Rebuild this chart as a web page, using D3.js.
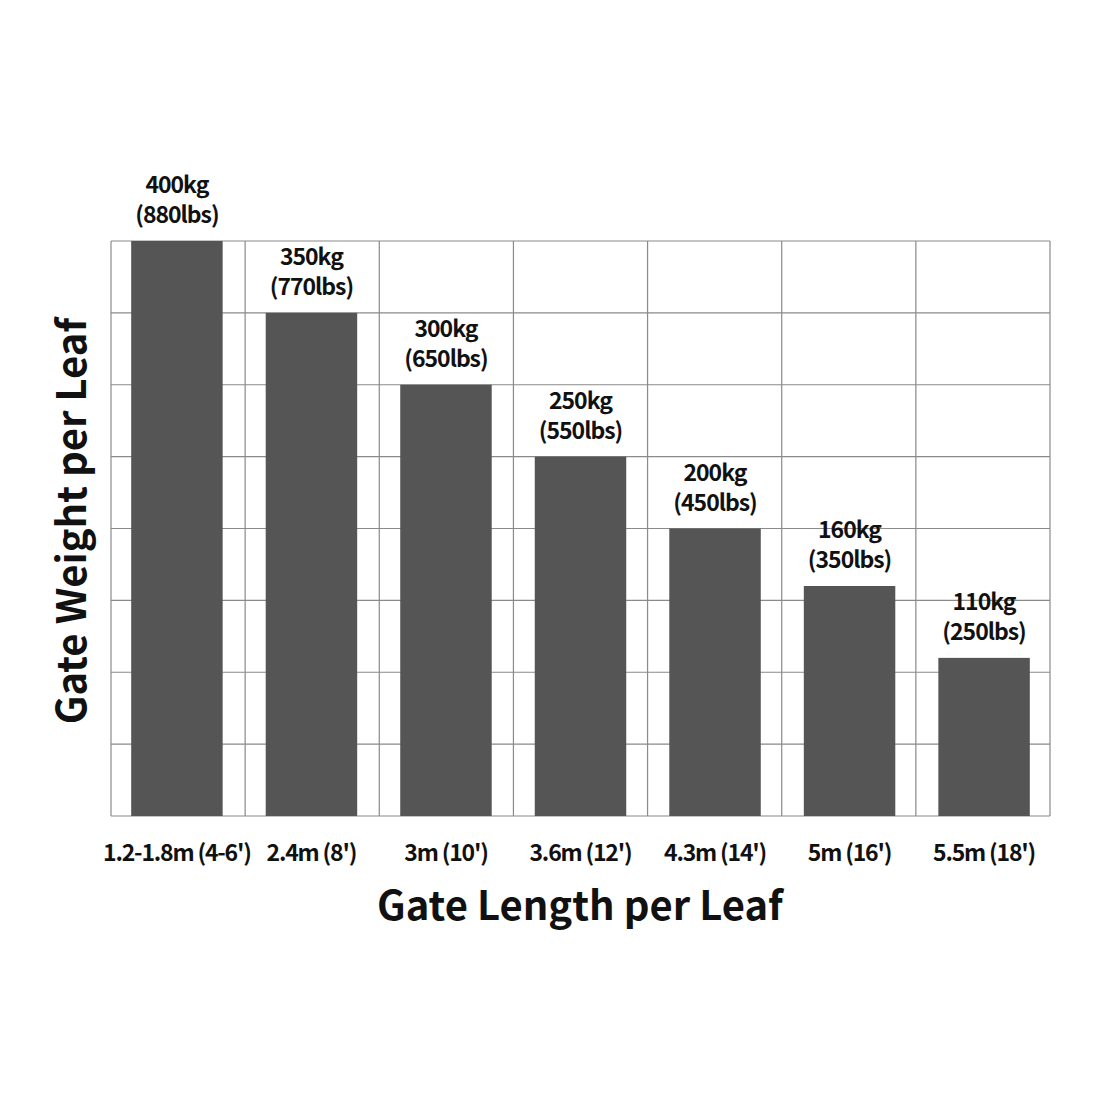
<!DOCTYPE html>
<html>
<head>
<meta charset="utf-8">
<script src="https://cdn.jsdelivr.net/npm/d3@7"></script>
<style>
  body { margin: 0; background: #fff; }
  text { font-family: "Noto Sans CJK SC", "Noto Sans", sans-serif; fill: #111; }
</style>
</head>
<body>
<script>
// chart data
var lengths = ["1.2-1.8m (4-6')", "2.4m (8')", "3m (10')", "3.6m (12')", "4.3m (14')", "5m (16')", "5.5m (18')"];
var weightsKg = [400, 350, 300, 250, 200, 160, 110];
var weightsLbs = [880, 770, 650, 550, 450, 350, 250];
var gridTicks = [0, 50, 100, 150, 200, 250, 300, 350, 400];

var width = 1100, height = 1100;
var plotLeft = 111, plotRight = 1050, plotTop = 241, plotBottom = 816;

var svg = d3.select("body").append("svg")
  .attr("width", width)
  .attr("height", height);

var x = d3.scaleBand()
  .domain(lengths)
  .range([plotLeft, plotRight])
  .paddingInner(0.32)
  .paddingOuter(0.15);

var y = d3.scaleLinear()
  .domain([0, 400])
  .range([plotBottom, plotTop]);

// horizontal grid
svg.append("g").selectAll("line")
  .data(gridTicks)
  .enter().append("line")
  .attr("x1", plotLeft).attr("x2", plotRight)
  .attr("y1", function(d) { return y(d); })
  .attr("y2", function(d) { return y(d); })
  .attr("stroke", "#8a8a8a")
  .attr("stroke-width", 1.2);

// vertical grid (column boundaries)
var step = (plotRight - plotLeft) / lengths.length;
svg.append("g").selectAll("line")
  .data(d3.range(lengths.length + 1))
  .enter().append("line")
  .attr("x1", function(i) { return plotLeft + i * step; })
  .attr("x2", function(i) { return plotLeft + i * step; })
  .attr("y1", plotTop).attr("y2", plotBottom)
  .attr("stroke", "#8a8a8a")
  .attr("stroke-width", 1.2);

// bars
svg.append("g").selectAll("rect")
  .data(weightsKg)
  .enter().append("rect")
  .attr("x", function(d, i) { return x(lengths[i]); })
  .attr("y", function(d) { return y(d); })
  .attr("width", x.bandwidth())
  .attr("height", function(d) { return y(0) - y(d); })
  .attr("fill", "#555555");

// value labels (two lines: kg over lbs)
var labels = svg.append("g").selectAll("text")
  .data(weightsKg)
  .enter().append("text")
  .attr("text-anchor", "middle")
  .attr("font-size", 23)
  .attr("font-weight", 600)
  .attr("letter-spacing", -1);

labels.append("tspan")
  .attr("x", function(d, i) { return x(lengths[i]) + x.bandwidth() / 2; })
  .attr("y", function(d) { return y(d) - 48; })
  .text(function(d) { return d + "kg"; });

labels.append("tspan")
  .attr("x", function(d, i) { return x(lengths[i]) + x.bandwidth() / 2; })
  .attr("y", function(d) { return y(d) - 18; })
  .text(function(d, i) { return "(" + weightsLbs[i] + "lbs)"; });

// category labels
svg.append("g").selectAll("text")
  .data(lengths)
  .enter().append("text")
  .attr("x", function(d) { return x(d) + x.bandwidth() / 2; })
  .attr("y", 861)
  .attr("text-anchor", "middle")
  .attr("font-size", 23)
  .attr("font-weight", 600)
  .attr("letter-spacing", -1.2)
  .text(function(d) { return d; });

// axis titles
svg.append("text")
  .attr("x", 580)
  .attr("y", 920)
  .attr("text-anchor", "middle")
  .attr("font-size", 40)
  .attr("font-weight", 700)
  .text("Gate Length per Leaf");

svg.append("text")
  .attr("transform", "translate(86,521) rotate(-90)")
  .attr("text-anchor", "middle")
  .attr("font-size", 40)
  .attr("font-weight", 700)
  .text("Gate Weight per Leaf");
</script>
</body>
</html>
